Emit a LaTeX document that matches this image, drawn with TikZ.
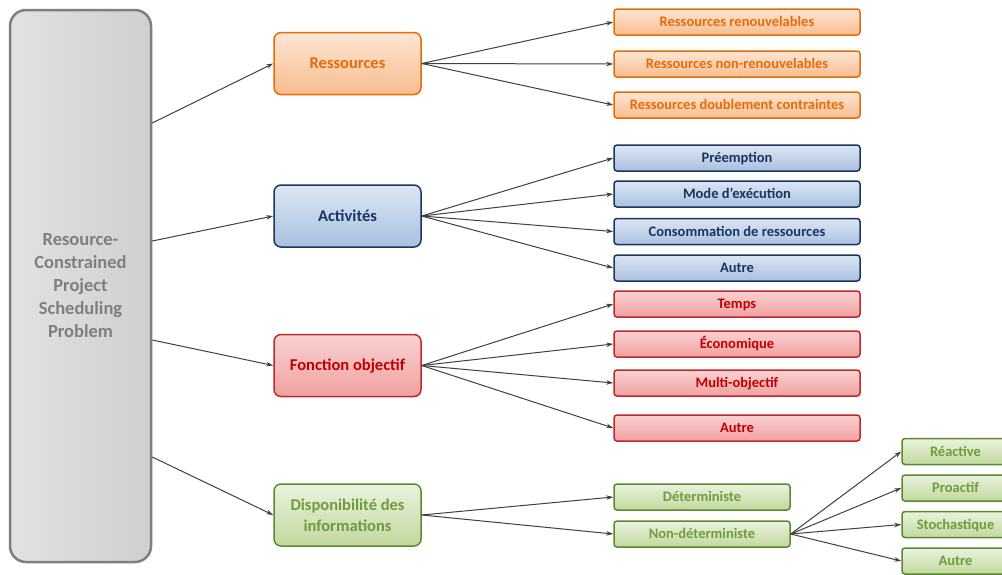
\documentclass[tikz,border=0pt]{standalone}
\usepackage{fontspec}
\setmainfont{Carlito}
\usetikzlibrary{positioning,arrows.meta}

\definecolor{rootline}{HTML}{7F7F7F}
\definecolor{rootleft}{HTML}{E2E2E2}
\definecolor{rootright}{HTML}{CFCFCF}
\definecolor{resline}{HTML}{E46C0A}
\definecolor{restop}{HTML}{FDE6D3}
\definecolor{resbot}{HTML}{F8BC8E}
\definecolor{actline}{HTML}{1B3560}
\definecolor{acttop}{HTML}{DCE6F3}
\definecolor{actbot}{HTML}{A9C0E0}
\definecolor{objline}{HTML}{C0282C}
\definecolor{objtext}{HTML}{C00000}
\definecolor{objtop}{HTML}{FAD2D2}
\definecolor{objbot}{HTML}{F0A0A0}
\definecolor{infline}{HTML}{5A8A30}
\definecolor{inftext}{HTML}{6E9D3E}
\definecolor{inftop}{HTML}{EAF2DE}
\definecolor{infbot}{HTML}{C2D89E}
\definecolor{linkgray}{HTML}{404040}

\begin{document}
\begin{tikzpicture}[x=1pt, y=-1pt, >={Stealth[length=7pt,width=4.5pt]},
  root/.style={draw=rootline, line width=2.5pt, rounded corners=16pt,
    left color=rootleft, right color=rootright, text=rootline, align=center,
    minimum width=141pt, minimum height=552pt,
    font=\fontsize{18.5}{23}\selectfont\bfseries},
  cat/.style={line width=1.5pt, rounded corners=7pt, align=center,
    minimum width=147pt, minimum height=62pt,
    font=\fontsize{16.5}{21}\selectfont\bfseries},
  oneline/.style={text height=12pt, text depth=1.5pt},
  leaf/.style={line width=1.5pt, rounded corners=3pt, inner sep=0pt,
    minimum width=246pt, minimum height=26pt, text height=11pt, text depth=1.7pt,
    font=\fontsize{14.5}{17}\selectfont\bfseries},
  ress/.style={draw=resline, top color=restop, bottom color=resbot, text=resline},
  activ/.style={draw=actline, top color=acttop, bottom color=actbot, text=actline},
  objf/.style={draw=objline, top color=objtop, bottom color=objbot, text=objtext},
  dispo/.style={draw=infline, top color=inftop, bottom color=infbot, text=inftext},
  link/.style={->, draw=linkgray, line width=1pt}]

  \useasboundingbox (0,0) rectangle (1002,574);
  \fill[white] (0,0) rectangle (1002,574);
  \clip (0,0) rectangle (1002,574);

  % main problem
  \node[root] (rcpsp) at (80.5,286) {Resource-\\Constrained\\Project\\Scheduling\\Problem};

  % first level
  \node[cat, oneline, ress]  (ress)  at (347.5,63.5)  {Ressources};
  \node[cat, oneline, activ] (activ) at (347.5,216)   {Activités};
  \node[cat, oneline, objf]  (objf)  at (347.5,365.5) {Fonction objectif};
  \node[cat, dispo] (dispo) at (347.5,515)   {Disponibilité des\\informations};

  % second level
  \node[leaf, ress]  (ress1)  at (737,22)  {Ressources renouvelables};
  \node[leaf, ress]  (ress2)  at (737,64)  {Ressources non-renouvelables};
  \node[leaf, ress]  (ress3)  at (737,105) {Ressources doublement contraintes};
  \node[leaf, activ] (activ1) at (737,158) {Préemption};
  \node[leaf, activ] (activ2) at (737,194) {Mode d’exécution};
  \node[leaf, activ] (activ3) at (737,231.5) {Consommation de ressources};
  \node[leaf, activ] (activ4) at (737,268) {Autre};
  \node[leaf, objf]  (objf1)  at (737,304) {Temps};
  \node[leaf, objf]  (objf2)  at (737,344) {Économique};
  \node[leaf, objf]  (objf3)  at (737,383) {Multi-objectif};
  \node[leaf, objf]  (objf4)  at (737,428) {Autre};
  \node[leaf, dispo, minimum width=176pt] (dispo1) at (702,497) {Déterministe};
  \node[leaf, dispo, minimum width=176pt] (dispo2) at (702,534) {Non-déterministe};

  % third level
  \node[leaf, dispo, minimum width=107pt] (nondet1) at (955.5,451.5) {Réactive};
  \node[leaf, dispo, minimum width=107pt] (nondet2) at (955.5,488)   {Proactif};
  \node[leaf, dispo, minimum width=107pt] (nondet3) at (955.5,524.5) {Stochastique};
  \node[leaf, dispo, minimum width=107pt] (nondet4) at (955.5,561)   {Autre};

  % connectors
  \draw[link] ([yshift=163pt]rcpsp.east) -- (ress.west);
  \draw[link] ([yshift=45pt]rcpsp.east)  -- (activ.west);
  \draw[link] ([yshift=-54pt]rcpsp.east) -- (objf.west);
  \draw[link] ([yshift=-171pt]rcpsp.east) -- (dispo.west);
  \foreach \i in {1,2,3} \draw[link] (ress.east) -- (ress\i.west);
  \foreach \i in {1,...,4} \draw[link] (activ.east) -- (activ\i.west);
  \foreach \i in {1,...,4} \draw[link] (objf.east) -- (objf\i.west);
  \foreach \i in {1,2} \draw[link] (dispo.east) -- (dispo\i.west);
  \foreach \i in {1,...,4} \draw[link] (dispo2.east) -- (nondet\i.west);
\end{tikzpicture}
\end{document}
